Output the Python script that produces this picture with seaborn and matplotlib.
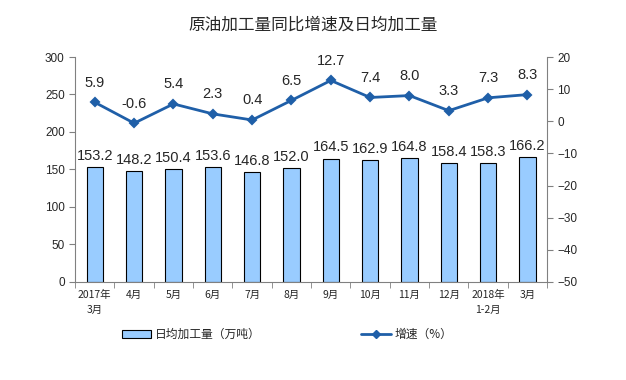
import numpy as np
import pandas as pd
import matplotlib
matplotlib.use('Agg')
import matplotlib.pyplot as plt
import seaborn as sns
from matplotlib.patches import Patch
from matplotlib.lines import Line2D

# data
months = ['2017年\n3月', '4月', '5月', '6月', '7月', '8月', '9月', '10月',
          '11月', '12月', '2018年\n1-2月', '3月']
daily_output = [153.2, 148.2, 150.4, 153.6, 146.8, 152.0, 164.5, 162.9,
                164.8, 158.4, 158.3, 166.2]
growth = [5.9, -0.6, 5.4, 2.3, 0.4, 6.5, 12.7, 7.4, 8.0, 3.3, 7.3, 8.3]

sns.set_style('white')
plt.rcParams['font.family'] = ['Liberation Sans', 'Noto Sans CJK SC', 'DejaVu Sans']

bar_color = '#99CCFF'
line_color = '#1F5FA8'

df = pd.DataFrame({'month': months, 'output': daily_output, 'growth': growth})

fig = plt.figure(figsize=(6.26, 3.8), dpi=100)
ax = fig.add_axes([0.12, 0.258, 0.754, 0.592])

sns.barplot(data=df, x='month', y='output', ax=ax, color=bar_color,
            edgecolor='black', linewidth=0.8, width=0.41, saturation=1)
ax.set_ylim(0, 300)
ax.set_yticks(range(0, 301, 50))
ax.set_xlim(-0.5, len(months) - 0.5)
ax.set_xlabel('')
ax.set_ylabel('')

# bar value labels
for i, v in enumerate(daily_output):
    ax.annotate(f'{v:.1f}', (i, v), xytext=(0, 3), textcoords='offset points',
                ha='center', va='bottom', fontsize=10.5)

ax2 = ax.twinx()
sns.pointplot(data=df, x='month', y='growth', ax=ax2, color=line_color,
              markers='D', markersize=4.5, linewidth=2)
ax2.set_ylim(-50, 20)
ax2.set_yticks(range(-50, 21, 10))
ax2.set_xlim(-0.5, len(months) - 0.5)
ax2.set_ylabel('')
ax2.set_xlabel('')

for i, v in enumerate(growth):
    ax2.annotate(f'{v:.1f}', (i, v), xytext=(0, 9), textcoords='offset points',
                 ha='center', va='bottom', fontsize=10.5)

# spines and ticks
for a in (ax, ax2):
    a.spines['top'].set_visible(False)
    for s in ('left', 'right', 'bottom'):
        a.spines[s].set_color('#808080')
        a.spines[s].set_linewidth(0.8)
ax.spines['right'].set_visible(False)
ax2.spines['left'].set_visible(False)
ax2.spines['bottom'].set_visible(False)

ax.tick_params(axis='y', which='major', direction='out', length=4, color='#808080',
               labelsize=8.5, left=True)
ax2.tick_params(axis='y', which='major', direction='out', length=4, color='#808080',
                labelsize=8.5, right=True)
ax.set_xticks(np.arange(len(months)))
ax.set_xticklabels(months, fontsize=7.5, family=['Noto Sans CJK SC', 'DejaVu Sans'],
                   linespacing=1.6)
ax.tick_params(axis='x', which='major', length=0, pad=6)
ax.set_xticks(np.arange(len(months) + 1) - 0.5, minor=True)
ax.tick_params(axis='x', which='minor', direction='out', length=4, color='#808080',
               bottom=True)

fig.suptitle('原油加工量同比增速及日均加工量', y=0.955, fontsize=12,
             family=['Noto Sans CJK SC', 'DejaVu Sans'])

# legend below the chart
leg_font = {'family': ['Noto Sans CJK SC', 'DejaVu Sans'], 'size': 8.5}
h1 = Patch(facecolor=bar_color, edgecolor='black', linewidth=0.8)
h2 = Line2D([], [], color=line_color, marker='D', markersize=4.5, linewidth=2)
fig.legend([h1], ['日均加工量（万吨）'], loc='center', bbox_to_anchor=(0.305, 0.12),
           frameon=False, prop=leg_font, handlelength=2.5, handletextpad=0.3)
fig.legend([h2], ['增速（%）'], loc='center', bbox_to_anchor=(0.65, 0.12),
           frameon=False, prop=leg_font, handlelength=2.5, handletextpad=0.3)

fig.savefig('out.png', dpi=100)
